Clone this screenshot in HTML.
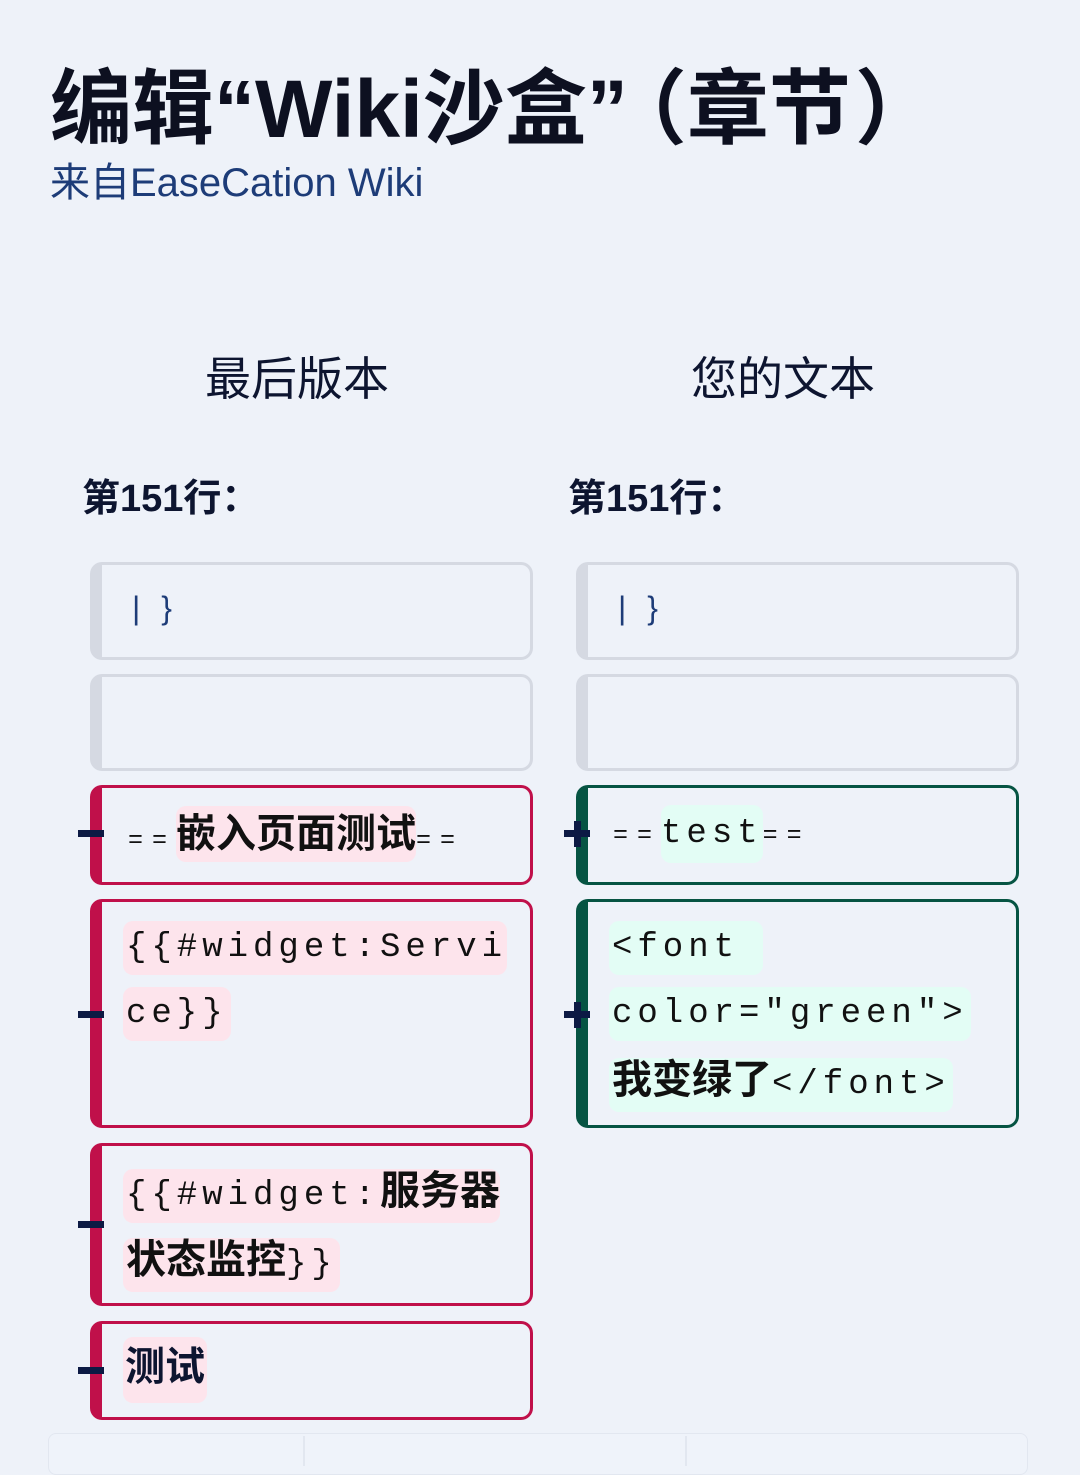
<!DOCTYPE html>
<html><head><meta charset="utf-8"><style>
body{margin:0;width:1080px;height:1456px;background:#eef2f9;position:relative;overflow:hidden;font-family:"Liberation Sans","Noto Sans CJK SC",sans-serif;color:#0d1530}
.a{position:absolute}
.box{position:absolute;box-sizing:border-box;border-radius:12px;border:3px solid #d5d9e2;border-left-width:12px}
.r{border-color:#c0104a}
.g{border-color:#065443}
.m{font-family:"Liberation Mono","Noto Sans CJK SC",monospace;font-size:34px;letter-spacing:5px;color:#111}
.hr{background:#fde4ec;border-radius:10px}
.hg{background:#e3fdf5;border-radius:10px}
.cj{font-family:"Liberation Sans","Noto Sans CJK SC",sans-serif;font-weight:bold;font-size:40px;letter-spacing:0}
.eq{font-size:25px;letter-spacing:9px}
.bar{position:absolute;background:#0c1a44;height:7px;width:26px}
.vbar{position:absolute;background:#0c1a44;width:7px;height:26px}
</style></head><body>
<div class="a" style="left:50px;top:42px;font-size:82px;font-weight:bold;white-space:nowrap;color:#0d1020">编辑“Wiki沙盒”<span style="margin-left:18px">（</span>章节<span style="margin-left:4px">）</span></div>
<div class="a" style="left:50px;top:150px;font-size:40px;color:#1d3c78;white-space:nowrap">来自EaseCation Wiki</div>
<div class="a" style="left:197px;top:343px;font-size:46px;width:200px;text-align:center;color:#0d1530">最后版本</div>
<div class="a" style="left:683px;top:343px;font-size:46px;width:200px;text-align:center;color:#0d1530">您的文本</div>
<div class="a" style="left:82px;top:467px;font-size:38px;font-weight:bold">第151行：</div>
<div class="a" style="left:568px;top:467px;font-size:38px;font-weight:bold">第151行：</div>

<div class="box" style="left:90px;top:562px;width:443px;height:98px"></div>
<div class="a" style="left:132px;top:590px;font-size:32px;color:#1d3c78;letter-spacing:6px">| }</div>
<div class="box" style="left:90px;top:674px;width:443px;height:97px"></div>
<div class="box r" style="left:90px;top:785px;width:443px;height:100px"></div>
<div class="a m" style="left:128px;top:804px;line-height:60px;white-space:nowrap"><span class="eq">==</span><span class="hr cj" style="padding:6px 0">嵌入页面测试</span><span class="eq">==</span></div>
<div class="bar" style="left:78px;top:830px"></div>

<div class="box r" style="left:90px;top:899px;width:443px;height:229px"></div>
<div class="a m" style="left:123px;top:915px;line-height:66px;width:390px">
<span class="hr" style="padding:8px 0 8px 3px">{{#widget:Servi</span><br><span class="hr" style="padding:8px 3px">ce}}</span></div>
<div class="bar" style="left:78px;top:1011px"></div>

<div class="box r" style="left:90px;top:1143px;width:443px;height:163px"></div>
<div class="a m" style="left:123px;top:1159px;line-height:64px;width:400px;white-space:nowrap">
<span class="hr" style="padding:8px 0 8px 3px">{{#widget:<span class="cj">服务器</span></span><br><span class="hr" style="padding:8px 3px"><span class="cj">状态监控</span>}}</span></div>
<div class="bar" style="left:78px;top:1221px"></div>

<div class="box r" style="left:90px;top:1321px;width:443px;height:99px"></div>
<div class="a hr cj" style="left:123px;top:1337px;height:66px;line-height:60px;padding:0 2px">测试</div>
<div class="bar" style="left:78px;top:1367px"></div>

<div class="box" style="left:576px;top:562px;width:443px;height:98px"></div>
<div class="a" style="left:618px;top:590px;font-size:32px;color:#1d3c78;letter-spacing:6px">| }</div>
<div class="box" style="left:576px;top:674px;width:443px;height:97px"></div>
<div class="box g" style="left:576px;top:785px;width:443px;height:100px"></div>
<div class="a m" style="left:613px;top:804px;line-height:60px;white-space:nowrap"><span class="eq">==</span><span class="hg" style="padding:10px 0">test</span><span class="eq">==</span></div>
<div class="bar" style="left:564px;top:830px"></div><div class="vbar" style="left:574px;top:821px"></div>

<div class="box g" style="left:576px;top:899px;width:443px;height:229px"></div>
<div class="a m" style="left:609px;top:915px;line-height:66px;width:400px;white-space:nowrap">
<span class="hg" style="padding:8px 24px 8px 3px">&lt;font</span><br><span class="hg" style="padding:8px 3px">color="green"&gt;</span><br><span class="hg" style="padding:8px 3px"><span class="cj">我变绿了</span>&lt;/font&gt;</span></div>
<div class="bar" style="left:564px;top:1011px"></div><div class="vbar" style="left:574px;top:1002px"></div>

<div class="a" style="left:48px;top:1433px;width:978px;height:40px;background:#eff3fa;border:1px solid #e2e7f0;border-radius:8px"></div>
<div class="a" style="left:303px;top:1436px;width:2px;height:30px;background:#e2e7f0"></div>
<div class="a" style="left:685px;top:1436px;width:2px;height:30px;background:#e2e7f0"></div>
</body></html>
